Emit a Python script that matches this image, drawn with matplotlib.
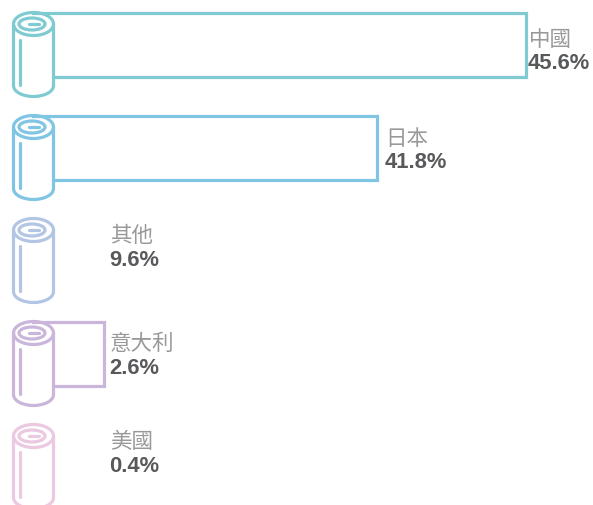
import matplotlib
matplotlib.use('Agg')
import matplotlib.pyplot as plt
from matplotlib.patches import Ellipse, PathPatch
from matplotlib.path import Path

countries = ['中國', '日本', '其他', '意大利', '美國']
shares = ['45.6%', '41.8%', '9.6%', '2.6%', '0.4%']
# right end of the unrolled sheet in pixels, None = no sheet visible
sheet_ends = [526, 377, None, 104, None]
colors = ['#80cbd1', '#80c5e3', '#b2c5e4', '#c9b6da', '#ebc9e1']
label_x = [528, 385, 109.5, 109.5, 109.5]
name_y = [40, 139, 236, 344, 442]
share_y = [63.5, 162.5, 260.5, 368.5, 466.5]
roll_tops = [12.5, 115.5, 218.5, 321.5, 424.5]

cjk = ['Noto Sans CJK TC', 'DejaVu Sans']
lw = 2.3

fig = plt.figure(figsize=(5.93, 5.05), dpi=100)
ax = fig.add_axes([0, 0, 1, 1])
ax.set_xlim(0, 593)
ax.set_ylim(505, 0)
ax.axis('off')


def draw_roll(top, color):
    cx = 33.5
    cy = top + 11.5
    ax.add_patch(Ellipse((cx, cy), 40, 23, fill=False, ec=color, lw=lw))
    ax.add_patch(Ellipse((cx - 1.5, cy), 26, 12, fill=False, ec=color, lw=lw))
    ax.plot([cx - 5, cx + 5], [cy, cy], color=color, lw=lw, solid_capstyle='round')
    # sides and the bottom curve as one stroke
    verts = [(13.5, cy), (13.5, top + 73), (13.5, top + 80), (24, top + 84), (cx, top + 84),
             (43, top + 84), (53.5, top + 80), (53.5, top + 73), (53.5, cy)]
    codes = [Path.MOVETO, Path.LINETO, Path.CURVE4, Path.CURVE4, Path.CURVE4,
             Path.CURVE4, Path.CURVE4, Path.CURVE4, Path.LINETO]
    ax.add_patch(PathPatch(Path(verts, codes), fill=False, ec=color, lw=lw))
    ax.plot([19.5, 19.5], [top + 27, top + 72], color=color, lw=lw, solid_capstyle='round')


for i in range(len(countries)):
    top = roll_tops[i]
    c = colors[i]
    if sheet_ends[i] is not None:
        end = sheet_ends[i]
        ax.plot([33, end, end, 53.5], [top, top, top + 64.5, top + 64.5],
                color=c, lw=lw, solid_joinstyle='miter')
    draw_roll(top, c)
    ax.text(label_x[i] + 0.5, name_y[i], countries[i], family=cjk, fontsize=15.5,
            color='#999999', va='center', ha='left', fontweight='light')
    ax.text(label_x[i], share_y[i], shares[i], family='Liberation Sans', fontsize=15.8,
            color='#58595b', va='center', ha='left', fontweight='bold')

fig.savefig('out.png', dpi=100)
